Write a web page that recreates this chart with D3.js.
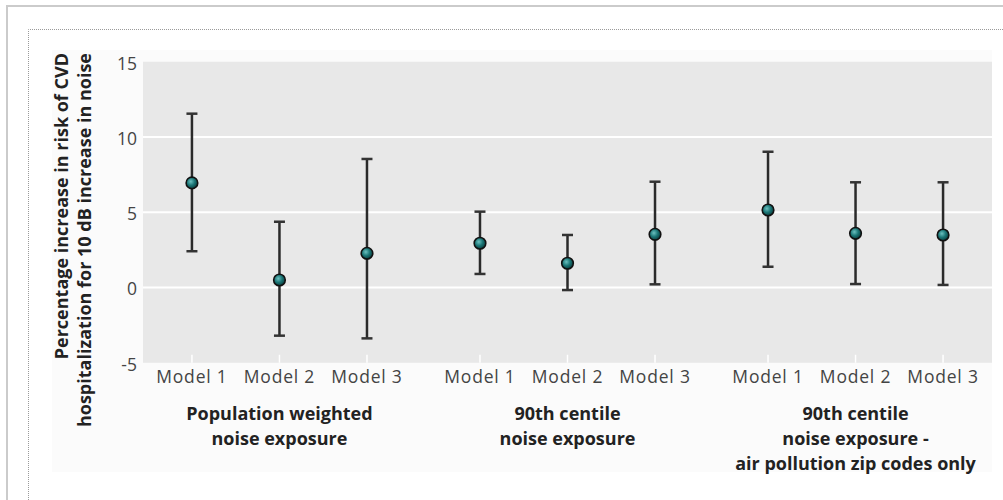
<!DOCTYPE html>
<html><head><meta charset="utf-8">
<script src="https://cdn.jsdelivr.net/npm/d3@7"></script>
<style>
html,body{margin:0;padding:0;background:#fff;}
svg{display:block;}
</style></head>
<body>
<svg id="c" width="1003" height="500"></svg>
<script>
// ---- data ----
const groups = ["g1", "g2", "g3"];
const groupTitles = [
  ["Population weighted", "noise exposure"],
  ["90th centile", "noise exposure"],
  ["90th centile", "noise exposure -", "air pollution zip codes only"]
];
const models = ["Model 1", "Model 2", "Model 3"];
const estimate = [6.95, 0.5, 2.27, 2.94, 1.61, 3.53, 5.15, 3.6, 3.49];
const lower    = [2.41, -3.2, -3.38, 0.9, -0.17, 0.21, 1.38, 0.23, 0.17];
const upper    = [11.55, 4.37, 8.54, 5.04, 3.49, 7.03, 9.02, 6.99, 6.99];
const yTicks = [-5, 0, 5, 10, 15];
const yTitle = ["Percentage increase in risk of CVD", "hospitalization for 10 dB increase in noise"];

const rows = [];
groups.forEach((g, gi) => models.forEach((m, mi) => {
  const i = gi * models.length + mi;
  rows.push({g, m, est: estimate[i], lo: lower[i], hi: upper[i]});
}));

const svg = d3.select("#c");
const font = "'Open Sans', 'DejaVu Sans', sans-serif";

// outer frames
svg.append("rect").attr("x", 52).attr("y", 50).attr("width", 940).attr("height", 422).attr("fill", "#fbfbfb");
svg.append("path").attr("d", "M7,500 V6 H1003").attr("fill", "none").attr("stroke", "#cbcbcb").attr("stroke-width", 2);
svg.append("path").attr("d", "M28.5,500 V29.5 H1003").attr("fill", "none").attr("stroke", "#9a9a9a")
  .attr("stroke-width", 1).attr("stroke-dasharray", "1,1");

// scales
const x0 = d3.scaleBand().domain(groups).range([143, 992]).paddingInner(0.0885).paddingOuter(0.018);
const x1 = d3.scaleBand().domain(models).range([0, x0.bandwidth()]).padding(0);
const y = d3.scaleLinear().domain([-5, 15]).range([362.75, 61.75]);
const cx = d => x0(d.g) + x1(d.m) + x1.bandwidth() / 2;

// plot background
svg.append("rect").attr("x", 143).attr("y", y(15)).attr("width", 992 - 143).attr("height", y(-5) - y(15)).attr("fill", "#e8e8e8");

// gridlines
svg.append("g").selectAll("line").data(yTicks.filter(t => t > -5 && t < 15)).join("line")
  .attr("x1", 143).attr("x2", 992).attr("y1", d => y(d)).attr("y2", d => y(d))
  .attr("stroke", "#fff").attr("stroke-width", 2);

// white ticks at bottom
svg.append("g").selectAll("line").data(rows).join("line")
  .attr("x1", cx).attr("x2", cx).attr("y1", y(-5) - 8).attr("y2", y(-5))
  .attr("stroke", "#fff").attr("stroke-width", 1.5);

// y axis
const ya = svg.append("g").attr("transform", "translate(143,0)")
  .call(d3.axisLeft(y).tickValues(yTicks).tickSize(0).tickPadding(6).tickFormat(d => String(d)));
ya.select(".domain").remove();
ya.selectAll("text").attr("font-family", font).attr("font-size", 17.5).attr("fill", "#444").attr("dy", "0.42em");

// x axis labels (models) per group
groups.forEach(g => {
  const xa = svg.append("g").attr("transform", `translate(${x0(g)},${y(-5)})`)
    .call(d3.axisBottom(x1).tickSize(0).tickPadding(8));
  xa.select(".domain").remove();
  xa.selectAll("text").attr("font-family", font).attr("font-size", 17.5).attr("fill", "#444")
    .attr("letter-spacing", "0.8px");
});

// group titles
groups.forEach((g, gi) => {
  const t = svg.append("text").attr("x", x0(g) + x0.bandwidth() / 2).attr("y", 420)
    .attr("text-anchor", "middle").attr("font-family", font).attr("font-weight", "bold")
    .attr("font-size", 18).attr("fill", "#222");
  groupTitles[gi].forEach((line, li) => {
    t.append("tspan").attr("x", x0(g) + x0.bandwidth() / 2).attr("dy", li === 0 ? 0 : 25).text(line);
  });
});

// y title
yTitle.forEach((line, li) => {
  svg.append("text").attr("transform", `translate(${68 + li * 22.5},53) rotate(-90)`)
    .attr("text-anchor", "end").attr("font-family", font).attr("font-weight", "bold")
    .attr("font-size", 18).attr("fill", "#222").text(line);
});

// gradient for points
const defs = svg.append("defs");
const grad = defs.append("radialGradient").attr("id", "pt").attr("cx", "40%").attr("cy", "38%").attr("r", "60%");
grad.append("stop").attr("offset", "0%").attr("stop-color", "#6cc0bf");
grad.append("stop").attr("offset", "55%").attr("stop-color", "#1b7676");
grad.append("stop").attr("offset", "100%").attr("stop-color", "#0c4444");

// error bars
const eb = svg.append("g");
eb.selectAll("line.v").data(rows).join("line").attr("class", "v")
  .attr("x1", cx).attr("x2", cx).attr("y1", d => y(d.lo)).attr("y2", d => y(d.hi))
  .attr("stroke", "#2a2a2a").attr("stroke-width", 2.5);
eb.selectAll("line.ct").data(rows).join("line").attr("class", "ct")
  .attr("x1", d => cx(d) - 5.5).attr("x2", d => cx(d) + 5.5).attr("y1", d => y(d.hi)).attr("y2", d => y(d.hi))
  .attr("stroke", "#333").attr("stroke-width", 2.5);
eb.selectAll("line.cb").data(rows).join("line").attr("class", "cb")
  .attr("x1", d => cx(d) - 5.5).attr("x2", d => cx(d) + 5.5).attr("y1", d => y(d.lo)).attr("y2", d => y(d.lo))
  .attr("stroke", "#333").attr("stroke-width", 2.5);

// points
svg.append("g").selectAll("circle").data(rows).join("circle")
  .attr("cx", cx).attr("cy", d => y(d.est)).attr("r", 5.8)
  .attr("fill", "url(#pt)").attr("stroke", "#111").attr("stroke-width", 1.6);
</script>
</body></html>
